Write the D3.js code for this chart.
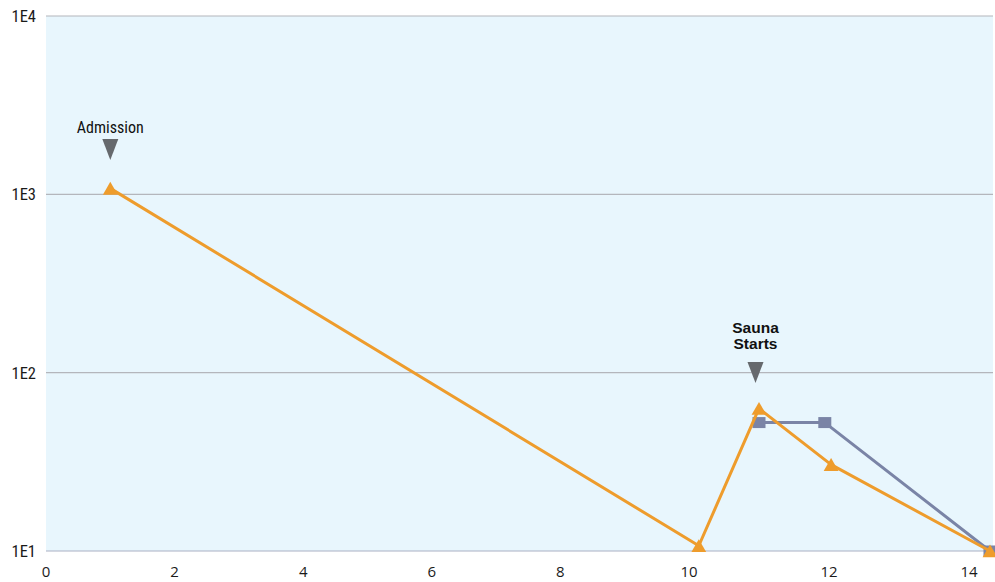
<!DOCTYPE html>
<html>
<head>
<meta charset="utf-8">
<script src="https://cdn.jsdelivr.net/npm/d3@7"></script>
<style>
  html, body { margin: 0; padding: 0; background: #ffffff; }
  svg { display: block; }
</style>
</head>
<body>
<svg id="chart" width="995" height="582"></svg>
<script>
// Days on the x axis, counts on a log y axis
const xTicks = [0, 2, 4, 6, 8, 10, 12, 14];
const yTicks = [10, 100, 1000, 10000];
const yTickLabels = ["1E1", "1E2", "1E3", "1E4"];

const orangeX = [1, 10.14, 11, 12.03, 14.3];
const orangeY = [1080, 10.7, 63, 30.5, 10];

const blueX = [11, 11.94, 14.3];
const blueY = [52.5, 52.5, 10];

const notes = [
  { x: 1, lines: ["Admission"], bold: false },
  { x: 10.95, lines: ["Sauna", "Starts"], bold: true }
];

const svg = d3.select("#chart");
const plotLeft = 46, plotRight = 993, plotTop = 16, plotBottom = 551;

// The day axis is spaced more widely after day 10
const x = d3.scaleLinear().domain([0, 10, 14.3]).range([plotLeft, 689, 990]);
const y = d3.scaleLog().domain([10, 10000]).range([plotBottom, plotTop]);

svg.append("rect")
  .attr("x", plotLeft).attr("y", plotTop)
  .attr("width", plotRight - plotLeft).attr("height", plotBottom - plotTop)
  .attr("fill", "#e8f6fd");

// horizontal grid lines at each decade
svg.append("g").selectAll("line").data(yTicks).join("line")
  .attr("x1", plotLeft).attr("x2", plotRight)
  .attr("y1", d => y(d)).attr("y2", d => y(d))
  .attr("stroke", (d, i) => i === 0 ? "#a9b0c4" : "#b4b6bc")
  .attr("stroke-width", 1.2);

svg.append("g").selectAll("text").data(yTicks).join("text")
  .attr("x", 36).attr("y", d => y(d)).attr("dy", "0.36em")
  .attr("text-anchor", "end")
  .attr("font-family", "'Liberation Sans Narrow', 'Roboto Condensed', 'Liberation Sans', sans-serif")
  .attr("font-size", 16.5).attr("fill", "#1a1a1a")
  .text((d, i) => yTickLabels[i]);

svg.append("g").selectAll("text").data(xTicks).join("text")
  .attr("x", d => x(d)).attr("y", 577)
  .attr("text-anchor", "middle")
  .attr("font-family", "'Open Sans', 'Noto Sans', sans-serif")
  .attr("font-size", 15).attr("fill", "#1a1a1a")
  .text(d => d);

const line = d3.line().x(d => x(d[0])).y(d => y(d[1]));
const orange = orangeX.map((v, i) => [v, orangeY[i]]);
const blue = blueX.map((v, i) => [v, blueY[i]]);

svg.append("path").datum(blue)
  .attr("d", line).attr("fill", "none")
  .attr("stroke", "#7a84a6").attr("stroke-width", 3)
  .attr("stroke-linejoin", "round");

svg.append("g").selectAll("rect").data(blue).join("rect")
  .attr("x", d => x(d[0]) - 6.5).attr("y", d => y(d[1]) - 5.5)
  .attr("width", 13).attr("height", 11)
  .attr("fill", "#7a84a6");

svg.append("path").datum(orange)
  .attr("d", line).attr("fill", "none")
  .attr("stroke", "#ee9c2c").attr("stroke-width", 3)
  .attr("stroke-linejoin", "round");

const tri = d3.symbol().type(d3.symbolTriangle).size(95);
svg.append("g").selectAll("path").data(orange).join("path")
  .attr("d", tri)
  .attr("transform", d => `translate(${x(d[0])},${y(d[1]) + 2})`)
  .attr("fill", "#ee9c2c");

// event annotations with downward pointers
const noteG = svg.append("g").selectAll("g").data(notes).join("g")
  .attr("transform", d => `translate(${x(d.x)},0)`);

noteG.each(function (d) {
  const g = d3.select(this);
  const base = d.bold ? 333 : 133;
  d.lines.forEach((s, i) => {
    g.append("text")
      .attr("x", 0).attr("y", base + i * 15.5)
      .attr("text-anchor", "middle")
      .attr("font-family", d.bold
        ? "'Liberation Sans', Arial, sans-serif"
        : "'Liberation Sans Narrow', 'Roboto Condensed', 'Liberation Sans', sans-serif")
      .attr("font-weight", d.bold ? "bold" : "normal")
      .attr("font-size", d.bold ? 15.5 : 16)
      .attr("fill", "#111")
      .text(s);
  });
});

noteG.append("path")
  .attr("d", d => {
    const t = d.bold ? 362 : 139;
    return `M-8,${t}L8,${t}L0,${t + 21}Z`;
  })
  .attr("fill", "#66696d");
</script>
</body>
</html>
